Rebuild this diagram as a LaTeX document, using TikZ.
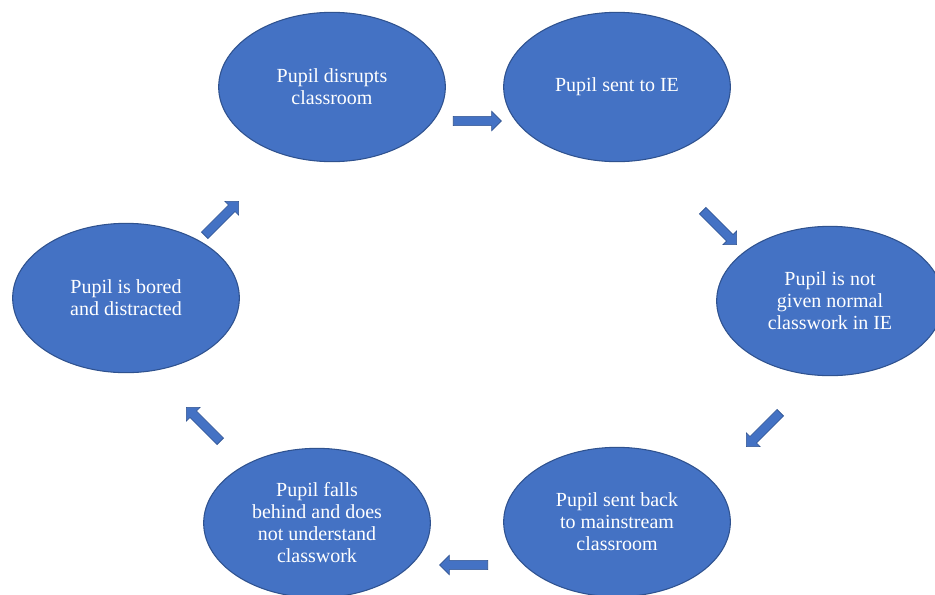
\documentclass[tikz,border=0pt]{standalone}
\usepackage{fontspec}
\setmainfont{Liberation Serif}
\usetikzlibrary{shapes.geometric,shapes.arrows}
\definecolor{stageblue}{HTML}{4472C4}
\definecolor{stageedge}{HTML}{2F528F}
\tikzset{
  stage/.style={ellipse, fill=stageblue, draw=stageedge, line width=0.8pt,
    minimum width=170pt, minimum height=112pt, inner sep=0pt,
    text=white, align=center, font=\fontsize{15}{16.5}\selectfont},
  flowarrow/.style={single arrow, fill=stageblue, draw=stageedge, line width=0.5pt,
    minimum height=36pt, inner sep=3.2pt, single arrow head extend=3.8pt,
    single arrow head indent=0pt}
}
\begin{document}
\begin{tikzpicture}[x=0.75pt,y=-0.75pt]
        \useasboundingbox[fill=white] (0,0) rectangle (935,594);
        \node[stage] (disrupt) at (332,87) {Pupil disrupts\\classroom};
        \node[stage] (sent) at (617,87) {Pupil sent to IE};
        \node[stage] (notgiven) at (830,301) {Pupil is not\\given normal\\classwork in IE};
        \node[stage] (back) at (617,522) {Pupil sent back\\to mainstream\\classroom};
        \node[stage] (behind) at (317,523) {Pupil falls\\behind and does\\not understand\\classwork};
        \node[stage] (bored) at (126,298) {Pupil is bored\\and distracted};
        \node[flowarrow] (a1) at (475,121) {};
        \node[flowarrow, rotate=-45] (a2) at (718,226) {};
        \node[flowarrow, rotate=-135] (a3) at (765,428) {};
        \node[flowarrow, rotate=180] (a4) at (466,565) {};
        \node[flowarrow, rotate=135] (a5) at (205,426) {};
        \node[flowarrow, rotate=45] (a6) at (220,220) {};
    \end{tikzpicture}
\end{document}
